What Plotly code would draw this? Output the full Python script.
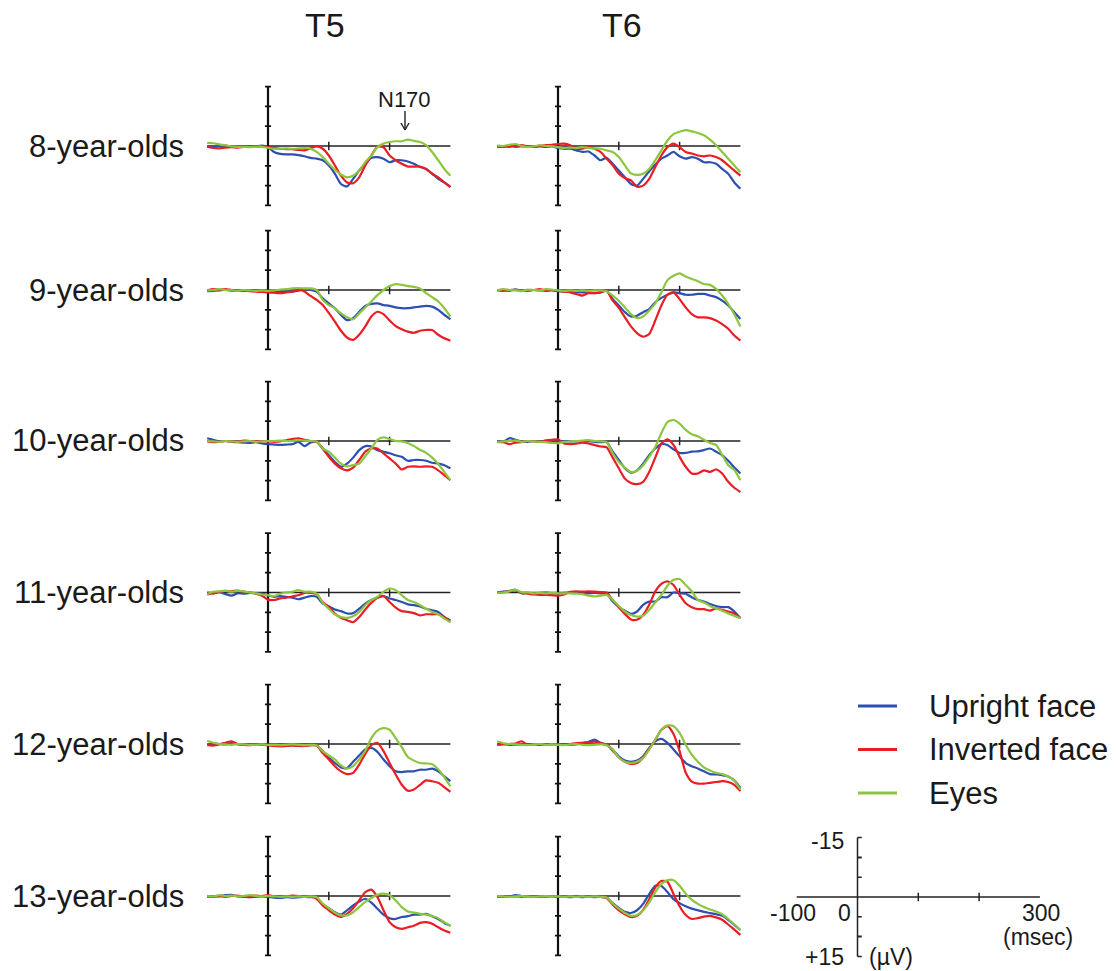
import plotly.graph_objects as go

# ---------------- data (µV, time grid -100..300 ms every 10 ms) ----------------
TIME_MS = list(range(-100, 301, 10))
COLUMN_TITLES = ["T5", "T6"]
ROW_LABELS = ["8-year-olds", "9-year-olds", "10-year-olds",
              "11-year-olds", "12-year-olds", "13-year-olds"]
CONDITIONS = ["Upright face", "Inverted face", "Eyes"]

t5_8_up = [0.2,0.3,0,-0.1,0.2,0.1,0,0.2,0.1,-0.1, 0.3,1.5,2.0,2.1,2.1,2.3,2.6,3.0,3.2,3.6, 4.9,7.0,9.6,10.2,8.3,6.2,4.5,3.0,2.8,3.2, 4.1,3.6,3.6,3.9,4.5,5.3,5.8,7.0,8.3,9.2,10.3]
t5_8_inv = [0.2,0.5,0.6,0.4,0.3,0.4,0.2,0.1,0.2,0.1, 0.3,0.5,0.7,0.8,0.8,1.0,1.1,0.6,0.1,0.7, 2.4,4.9,7.5,9.2,9.4,7.9,4.9,2.4,0.2,0.3, 2.4,3.6,4.5,5.2,5.2,5.2,5.8,7.0,7.9,9.2,10.4]
t5_8_eye = [-0.8,-0.7,-0.4,-0.2,0.1,0.2,0.2,0.3,0.2,0.2, 0.5,0.7,0.7,0.6,0.7,0.6,0.5,0.7,1.5,2.8, 4.5,6.0,7.2,7.9,7.5,6.2,4.1,2.4,0.3,-0.6, -1.0,-1.2,-1.2,-1.6,-1.3,-1.0,-0.2,1.5,3.6,5.8,7.5]

t6_8_up = [0.1,0.2,-0.1,0.2,0.1,0,0.2,0.1,0.2,0.1, 0.5,0.7,0.7,1.1,1.5,1.4,2.4,3.6,3.0,4.5, 6.2,7.9,9.6,10.0,8.3,6.4,4.7,3.2,2.4,1.5, 2.6,3.2,2.8,3.2,4.1,4.1,4.5,5.8,7.0,9.2,10.8]
t6_8_inv = [0.3,0.1,0.2,0,-0.2,0.1,0.2,0,-0.2,-0.3, -0.5,-0.6,-0.2,0.7,0.7,0.3,0.7,1.5,3.2,4.9, 7.0,8.1,8.7,10.3,10.0,8.3,5.3,2.4,0.3,-0.6, 0.3,1.5,1.9,2.4,2.6,2.4,2.8,3.6,4.9,6.2,7.5]
t6_8_eye = [-0.1,0,-0.3,-0.5,0,0.3,0.1,-0.2,0,0.1, 0.3,0.5,0.4,0.5,0.3,0.5,0.6,0.7,1.1,1.5, 2.8,4.9,6.9,7.3,7.0,5.8,3.6,1.1,-1.4,-3.0, -3.6,-4.0,-3.7,-3.3,-2.7,-1.6,-0.2,1.5,3.2,4.9,6.6]

t5_9_up = [0.3,0.2,0.1,-0.1,0.2,0.1,0.2,0.2,0.1,0.2, 0.4,0.5,0.4,0.4,0.4,0.2,-0.3,0,0.4,2.1, 3.4,4.6,6.3,7.6,7.1,5.5,4.0,3.5,3.4,3.8, 4.0,4.4,4.6,4.6,4.4,4.2,4.0,4.2,5.0,6.3,7.4]
t5_9_inv = [0.1,-0.2,-0.1,-0.2,0,0.1,0.2,0.3,0.4,0.5, 0.6,0.7,0.8,0.6,0.4,0,0.4,1.5,2.5,3.8, 5.8,8.0,10.3,12.0,12.6,11.3,9.2,6.7,5.5,6.1, 7.7,9.1,9.9,10.5,10.8,10.3,10.1,10.1,11.3,12.2,12.8]
t5_9_eye = [0.1,0,-0.2,0,0.1,0.2,0,0.1,0.2,0.1, 0.2,0.1,-0.1,-0.2,-0.4,-0.5,-0.4,-0.4,0,2.5, 3.8,4.6,5.9,6.9,7.4,5.9,4.4,2.9,1.3,0, -1.0,-1.5,-1.3,-1.0,-0.8,-0.4,0.8,1.8,2.9,4.6,6.7]

t6_9_up = [0.1,0.2,0,-0.1,0.1,0.1,0,0.1,0.2,0.1, 0.3,0.4,0.3,0.5,0.6,0.6,0.8,0.6,0.2,2.3, 3.9,5.6,6.7,6.5,5.6,4.8,3.1,2.0,1.2,0.6, 0.8,1.2,1.2,1.0,1.0,1.4,1.8,2.7,3.9,5.6,7.3]
t6_9_inv = [0,0.1,0.2,-0.1,0.1,0.2,0,-0.2,0.1,0, 0.2,0.4,0.6,1.0,1.4,0.8,0.8,0.6,0.2,2.7, 4.5,6.9,9.2,10.9,11.8,11.1,7.7,3.9,1.2,0.6, 2.3,4.4,6.1,6.9,6.9,7.1,7.7,8.6,9.8,11.5,12.8]
t6_9_eye = [0.1,-0.2,0,0.1,0.3,-0.1,0,0.1,-0.2,-0.1, 0.1,0.2,0.1,0.2,0.1,0.2,0.1,0.1,0.3,1.4, 2.7,4.4,6.1,7.1,6.7,5.2,3.4,0.6,-2.5,-3.6, -4.2,-3.4,-2.8,-2.2,-1.5,-1.3,-0.3,1.4,3.5,6.1,9.2]

t5_10_up = [-0.7,-0.3,0.1,0,0.2,0.3,0.4,0.5,0.3,0.6, 0.8,0.9,1.0,0.9,0.8,0.2,1.3,0.4,0.2,1.9, 3.6,5.3,6.5,5.7,4.2,2.3,1.3,1.4,2.3,2.7, 3.1,3.6,4.0,5.0,4.8,4.8,5.0,5.5,5.7,6.1,6.9]
t5_10_inv = [0.1,0.3,0.2,0,0.1,0.2,-0.1,0,0.1,0, 0.1,0.2,0.1,-0.2,-0.5,-0.7,-0.3,0,0.2,1.9, 4.0,5.7,6.9,7.4,6.7,4.8,2.7,1.9,1.9,3.1, 4.4,5.7,7.2,6.5,6.4,6.5,6.4,6.5,7.4,8.6,9.9]
t5_10_eye = [0,0.1,0.2,0,0.1,0.2,0.1,0,0.2,0.1, 0,0,-0.1,0,0,-0.2,-0.1,0,0.1,1.9, 2.7,4.2,5.7,6.4,6.1,5.7,3.8,1.9,-0.3,-0.9, -0.5,0,0.1,0.5,1.3,2.2,3.0,4.2,5.8,7.8,9.9]

t6_10_up = [0.1,0.2,-0.7,-0.3,0.1,0.2,0,0.1,-0.1,0, 0.2,0,0.1,0.1,0,0,0.2,0.3,0.3,2.7, 4.8,6.9,8.0,7.4,5.7,3.6,1.9,0.8,1.0,2.1, 3.0,3.0,2.7,2.6,2.3,1.9,2.7,3.6,5.0,6.7,8.2]
t6_10_inv = [0.2,0.3,0.8,0.4,0.3,0,0.1,0.2,-0.1,-0.3, -0.4,0.6,0.8,0.7,0.4,0.6,1.0,1.4,1.6,4.2, 6.9,9.5,10.6,10.9,10.3,7.8,4.2,0.6,-0.4,1.0, 4.0,6.5,8.2,8.2,7.4,7.8,7.2,8.2,10.3,11.8,12.9]
t6_10_eye = [0.3,0.1,0,-0.1,0.2,0,0.1,0.2,0.3,0.5, 0.6,0.2,0.1,0,-0.1,-0.2,0,0.1,0.3,3.1, 5.3,6.7,7.8,7.5,6.1,4.0,1.5,-2.0,-4.8,-5.3, -4.4,-2.8,-1.7,-1.2,-0.3,0.5,1.0,3.5,6.1,7.3,9.9]

t5_11_up = [0,0.2,-0.1,0.4,0.8,0.2,0.3,0.1,0.2,0.3, 0.7,1.1,0.9,1.1,1.3,1.7,1.3,0.9,1.1,2.8, 3.5,4.3,4.7,5.3,5.2,4.1,2.8,1.9,1.3,0.9, 1.5,1.9,2.4,3.0,3.2,3.5,4.1,4.5,4.9,6.2,7.0]
t5_11_inv = [0.5,0.2,-0.2,-0.4,-0.3,-0.5,-0.2,0,0.3,0.8, 1.8,1.9,1.5,1.3,1.0,0.7,0.1,0.1,0.4,2.4, 3.6,5.3,6.4,7.0,7.5,6.2,4.3,2.6,1.3,0.9, 2.4,3.8,4.7,4.9,5.2,5.8,5.5,5.5,5.5,6.2,7.5]
t5_11_eye = [0.4,-0.2,-0.3,-0.4,-0.2,-0.4,-0.3,0,0.2,0.5, 0.7,0.9,0.3,0,-0.2,-0.6,-0.2,-0.2,0.3,2.6, 4.1,5.5,6.2,6.4,6.0,4.9,3.2,1.9,1.1,-0.2, -1.0,-0.6,0.7,1.9,2.4,3.2,4.1,4.9,5.5,6.6,7.5]

t6_11_up = [0,-0.2,-0.4,-0.7,0.2,0.1,0.2,0.1,0,0.2, 0.2,0.1,0,0.1,0.2,0.2,0.1,0.2,0.3,2.3, 3.6,4.6,5.4,4.8,3.1,2.3,2.3,1.2,1.2,0, 0.2,0.3,1.2,1.9,2.3,2.9,3.4,3.7,3.7,4.8,6.5]
t6_11_inv = [0.1,-0.1,-0.3,-0.5,0.1,0.3,0.5,0.6,0.6,0.7, 0.8,0.5,-0.2,-0.3,-0.2,-0.3,-0.2,-0.1,0,1.9, 3.7,5.4,6.8,6.9,5.7,3.1,-0.3,-2.2,-2.8,-1.9, 0.6,2.7,3.7,4.2,4.2,4.6,4.0,4.4,4.8,5.3,6.5]
t6_11_eye = [0.1,0,-0.3,-0.7,-0.1,0,0.2,0.1,0.2,0.1, 0.2,0.2,0.2,0.3,0.4,0.8,1.0,0.8,0.6,1.9, 3.4,4.8,5.7,6.1,5.9,4.4,2.5,0.6,-1.7,-3.2, -3.4,-1.9,-0.3,1.9,2.5,3.4,4.0,4.6,5.3,5.9,6.5]

t5_12_up = [0.2,-0.1,0,0.1,-0.2,0.1,0.2,0,0.1,0.2, 0.2,0.3,0.4,0.3,0.2,0.3,0.4,0.3,0.3,1.8, 3.4,4.8,5.9,6.1,4.5,2.9,1.4,1.0,2.0,3.9, 5.6,6.9,7.1,6.9,6.9,6.5,6.5,6.2,6.9,8.2,9.4]
t5_12_inv = [0.3,0.4,0.1,-0.3,-0.7,0,0.2,0.3,0.1,0.2, 0.3,0.5,0.6,0.5,0.4,0.5,0.5,0.3,0.4,2.3, 3.9,5.6,6.9,7.6,7.3,5.2,2.5,0.3,-0.3,1.8, 4.8,7.7,10.3,11.8,11.5,10.3,9.2,9.4,9.8,10.9,12.1]
t5_12_eye = [-0.8,-0.3,0,0.1,0.2,0,0.1,0.2,0.2,0.1, 0.2,0.2,0.3,0.2,0.1,0.2,0.3,0.2,0.3,1.8, 2.9,3.9,5.4,6.2,5.6,3.9,1.7,-1.5,-3.4,-4.0, -3.6,-1.5,0.8,3.3,4.2,4.8,4.9,5.1,6.4,8.4,10.7]

t6_12_up = [0.1,0,0.2,0.2,0.1,0,0.1,0.2,0,0.1, 0,0.1,0.2,0.1,-0.2,-0.5,-1.1,-0.3,0.2,1.4, 3.1,4.2,4.5,4.2,3.1,1.0,-0.7,-1.3,-0.3,1.4, 3.1,4.8,5.6,6.2,6.9,7.6,7.7,7.9,8.2,9.2,11.1]
t6_12_inv = [0.2,0.1,0,-0.1,-0.7,0.2,0,0.1,0.2,0, 0.1,0.2,0,-0.2,-0.3,-0.4,-0.6,-0.2,0.1,1.7, 3.4,4.5,5.0,4.8,3.5,1.2,-1.0,-3.6,-4.5,-2.5, 1.8,7.2,9.5,10.0,10.0,9.8,9.6,9.4,9.6,10.3,11.9]
t6_12_eye = [-0.7,-0.2,0,0.1,0.2,0.3,0.1,0,0.2,0.1, 0.2,0.3,0.1,0,0.2,0.3,0.2,0.1,0.3,1.4, 3.4,4.5,4.8,4.5,3.5,1.4,-1.1,-3.6,-4.7,-4.5, -2.8,0.2,2.7,4.5,5.9,6.7,7.3,7.6,8.2,9.2,11.5]

t5_13_up = [0.1,0.2,0,-0.2,-0.3,0.1,0.2,0.3,0.2,0.1, 0.2,0.4,0.5,0.3,0.4,0.3,0.2,0.3,0.4,2.2, 3.1,4.1,4.7,3.6,2.4,1.4,0.7,1.7,3.2,4.7, 5.6,5.8,5.3,5.1,4.7,4.7,4.5,5.1,5.8,6.8,7.5]
t5_13_inv = [0.2,0,0.1,0.2,0,-0.1,0.1,0,-0.1,0, -0.2,0.1,0.2,0.1,-0.1,0,0.1,0.2,0.7,2.4, 3.6,4.7,5.3,4.5,3.1,1.1,-1.0,-1.6,0.3,3.6, 6.6,7.9,8.3,7.9,7.5,6.8,6.6,7.0,7.9,8.7,9.3]
t5_13_eye = [0,0.1,-0.2,0,-0.1,0.1,0,-0.2,0,0.1, 0,0.1,0.2,0.1,0.2,0.1,0.2,0.1,0.3,1.9, 3.1,4.2,4.9,4.9,4.1,2.8,1.5,0.5,-0.3,-0.6, -0.2,1.1,2.8,3.9,4.2,4.5,4.7,5.1,5.6,6.6,7.5]

t6_13_up = [0.2,0,0.1,-0.2,0,0.1,0.2,0,0.1,0, 0.1,0.2,0.3,0.2,0.3,0.2,0.3,0.2,0.4,1.8, 3.0,4.0,4.3,3.6,2.0,-0.5,-2.6,-2.5,-1.0,0.8, 1.8,2.6,3.2,3.6,4.0,4.3,4.6,5.0,6.0,7.3,8.6]
t6_13_inv = [0.1,0.2,0,0.1,0.2,0,0.1,0.2,0.1,0.1, 0.2,0.1,0,0.1,0.2,0.1,0.2,0.2,0.5,2.2, 3.6,4.6,5.3,5.0,3.5,0.8,-2.2,-3.8,-3.6,-0.5, 2.6,4.8,5.8,5.6,5.2,5.0,5.4,6.0,7.2,8.5,9.8]
t6_13_eye = [0,0.1,0.2,0.1,0,0.1,0.2,0.1,0,0.1, 0.1,0.2,0.1,0.2,0.1,0.2,0.1,0.2,0.4,1.9, 3.2,4.3,5.0,4.8,3.6,1.6,-1.0,-3.0,-4.0,-4.0, -2.6,-0.6,1.0,2.0,2.8,3.4,3.9,4.6,5.8,7.2,8.6]

PANELS = [  # (row, col, upright, inverted, eyes)
    (0, 0, t5_8_up, t5_8_inv, t5_8_eye), (0, 1, t6_8_up, t6_8_inv, t6_8_eye),
    (1, 0, t5_9_up, t5_9_inv, t5_9_eye), (1, 1, t6_9_up, t6_9_inv, t6_9_eye),
    (2, 0, t5_10_up, t5_10_inv, t5_10_eye), (2, 1, t6_10_up, t6_10_inv, t6_10_eye),
    (3, 0, t5_11_up, t5_11_inv, t5_11_eye), (3, 1, t6_11_up, t6_11_inv, t6_11_eye),
    (4, 0, t5_12_up, t5_12_inv, t5_12_eye), (4, 1, t6_12_up, t6_12_inv, t6_12_eye),
    (5, 0, t5_13_up, t5_13_inv, t5_13_eye), (5, 1, t6_13_up, t6_13_inv, t6_13_eye),
]

# ---------------- styling / geometry ----------------
COLORS = ["#2b50b0", "#ec1c24", "#8cc63f"]
FONT = "Liberation Sans, Arial, Helvetica, sans-serif"
W, H = 1116, 971
COL_ZERO_PX = [268, 558]
SCALE_ZERO_PX = 857.5
PX_PER_MS = 0.608
ROW_BASE_PX = [146, 290, 441, 592.5, 744, 896]
SCALE_BASE_PX = 897
PX_PER_UV = 3.96
XR = (-112, 312)
YR = 18

def fx(p):
    return p / W

def fy(p):
    return 1 - p / H

fig = go.Figure()
layout = dict(width=W, height=H, margin=dict(l=0, r=0, t=0, b=0),
              paper_bgcolor="white", plot_bgcolor="rgba(0,0,0,0)",
              showlegend=False)
shapes = []
annotations = []

def make_axes(n, zero_px, base_px):
    xk = "xaxis" if n == 1 else f"xaxis{n}"
    yk = "yaxis" if n == 1 else f"yaxis{n}"
    xr = "x" if n == 1 else f"x{n}"
    yr = "y" if n == 1 else f"y{n}"
    layout[xk] = dict(domain=[fx(zero_px + XR[0] * PX_PER_MS), fx(zero_px + XR[1] * PX_PER_MS)],
                      range=list(XR), visible=False, anchor=yr, fixedrange=True)
    layout[yk] = dict(domain=[fy(base_px + YR * PX_PER_UV), fy(base_px - YR * PX_PER_UV)],
                      range=[YR, -YR], visible=False, anchor=xr, fixedrange=True)
    return xr, yr

def seg(xr, yr, x0, y0, x1, y1, w, color="#1a1a1a"):
    shapes.append(dict(type="line", xref=xr, yref=yr, x0=x0, y0=y0, x1=x1, y1=y1,
                       line=dict(color=color, width=w), layer="below"))

n = 0
for row, col, up, inv, eye in PANELS:
    n += 1
    xr, yr = make_axes(n, COL_ZERO_PX[col], ROW_BASE_PX[row])
    seg(xr, yr, -100, 0, 300, 0, 1.5, "#222222")
    seg(xr, yr, 0, -15, 0, 15, 2.2, "#111111")
    for v in (-15, -10, -5, 5, 10, 15):
        seg(xr, yr, -5, v, 5, v, 1.8, "#111111")
    for tm in (100, 200):
        seg(xr, yr, tm, -1.1, tm, 1.1, 1.5, "#222222")
    for vals, color, name in zip((up, inv, eye), COLORS, CONDITIONS):
        fig.add_trace(go.Scatter(x=TIME_MS, y=vals, mode="lines", name=name,
                                 line=dict(color=color, width=2.2, shape="spline", smoothing=0.6),
                                 xaxis=xr, yaxis=yr, hoverinfo="skip"))

# scale-bar panel
n += 1
xr, yr = make_axes(n, SCALE_ZERO_PX, SCALE_BASE_PX)
seg(xr, yr, -100, 0, 300, 0, 1.5, "#222222")
seg(xr, yr, 0, -15, 0, 15, 1.5, "#222222")
for v in (-15, -10, -5, 5, 10, 15):
    seg(xr, yr, 0, v, 7, v, 1.5 if abs(v) != 10 else 2, "#222222")
for tm in (100, 200):
    seg(xr, yr, tm, -1.1, tm, 1.1, 1.5, "#222222")
fig.add_trace(go.Scatter(x=[0], y=[0], mode="markers", marker=dict(size=1, color="rgba(0,0,0,0)"),
                         xaxis=xr, yaxis=yr, hoverinfo="skip"))

def text(t, xpx, ypx, size, xanchor="center", yanchor="middle"):
    annotations.append(dict(text=t, x=fx(xpx), y=fy(ypx), xref="paper", yref="paper",
                            xanchor=xanchor, yanchor=yanchor, showarrow=False,
                            font=dict(family=FONT, size=size, color="#1a1a1a")))

# column titles
text(COLUMN_TITLES[0], 325, 25, 34)
text(COLUMN_TITLES[1], 622, 25, 34)
# row labels
for r, lab in enumerate(ROW_LABELS):
    text(lab, 186, ROW_BASE_PX[r], 31, xanchor="right")

# N170 label with arrow
text("N170", 404, 99, 22)
for (x0, y0, x1, y1) in [(405, 111, 405, 130), (401, 123, 405, 130), (409, 123, 405, 130)]:
    shapes.append(dict(type="line", xref="paper", yref="paper", x0=fx(x0), y0=fy(y0),
                       x1=fx(x1), y1=fy(y1), line=dict(color="#222222", width=1.4)))

# legend
for i, (name, color) in enumerate(zip(CONDITIONS, COLORS)):
    ypx = 706 + i * 43.5
    shapes.append(dict(type="line", xref="paper", yref="paper", x0=fx(858), y0=fy(ypx),
                       x1=fx(897), y1=fy(ypx), line=dict(color=color, width=3)))
    text(name, 927, ypx, 31, xanchor="left")

# scale labels
text("-15", 846, 841, 23, xanchor="right")
text("-100", 793, 913, 23)
text("0", 844, 913, 23)
text("300", 1041, 913, 23)
text("(msec)", 1038, 937, 23)
text("+15", 846, 957, 23, xanchor="right")
text("(µV)", 867, 957, 23, xanchor="left")

layout["shapes"] = shapes
layout["annotations"] = annotations
fig.update_layout(**layout)
fig.write_html("out.html", config={"displayModeBar": False},
               post_script="document.body.style.margin='0px';")
